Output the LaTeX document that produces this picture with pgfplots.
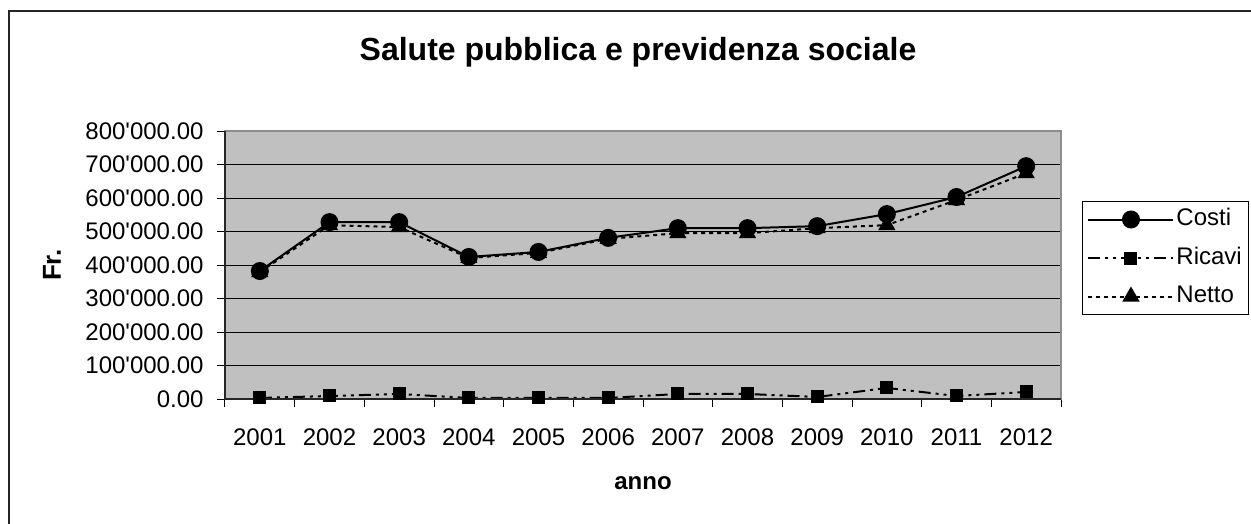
\documentclass[border=0pt]{standalone}
\usepackage{fontspec}
\setmainfont{Liberation Sans}
\usepackage{pgfplots}
\pgfplotsset{compat=1.18}
\definecolor{plotbg}{HTML}{C0C0C0}
\definecolor{bordergray}{HTML}{8C8C8C}
\begin{document}
\begin{tikzpicture}[x=1pt,y=1pt]
\useasboundingbox (0,0) rectangle (1251,523);
\fill[white] (0,0) rectangle (1251,523);
\begin{axis}[
  at={(225pt,124pt)}, anchor=south west,
  scale only axis, width=836pt, height=268pt,
  xmin=0.5, xmax=12.5, ymin=0, ymax=800000,
  axis background/.style={fill=plotbg},
  axis line style={draw=bordergray, line width=2pt},
  tick pos=left,
  xtick={0.5,1.5,2.5,3.5,4.5,5.5,6.5,7.5,8.5,9.5,10.5,11.5,12.5},
  xticklabels={},
  extra x ticks={1,2,3,4,5,6,7,8,9,10,11,12},
  extra x tick labels={2001,2002,2003,2004,2005,2006,2007,2008,2009,2010,2011,2012},
  extra x tick style={major tick length=0pt, grid=none},
  ytick={0,100000,200000,300000,400000,500000,600000,700000,800000},
  yticklabels={0.00,100\textquotesingle000.00,200\textquotesingle000.00,300\textquotesingle000.00,400\textquotesingle000.00,500\textquotesingle000.00,600\textquotesingle000.00,700\textquotesingle000.00,800\textquotesingle000.00},
  scaled y ticks=false,
  tick align=outside, major tick length=8pt,
  tick style={black, line width=1pt},
  ymajorgrids, grid style={black, line width=1pt},
  tick label style={font=\fontsize{24}{28}\selectfont},
  x tick label style={yshift=-26pt},
  y tick label style={xshift=-10pt},
  legend style={at={(axis description cs:1.0251,0.7388)}, anchor=north west,
    draw=black, line width=1pt, fill=white,
    font=\fontsize{24}{28}\selectfont, row sep=12.5pt, inner sep=5pt,
    nodes={inner sep=2pt, text height=17pt, text depth=5pt}},
  legend cell align=left,
  reverse legend,
  legend image code/.code={\draw[mark repeat=2,mark phase=2,#1] plot coordinates {(0pt,0pt) (42.5pt,0pt) (85pt,0pt)};},
  clip=false,
]
\addplot[black, line width=2pt, dash pattern=on 4pt off 4pt, mark=triangle*, mark size=8pt, mark options={solid, fill=black}]
  coordinates {(1,379000) (2,519000) (3,513000) (4,421000) (5,436000) (6,478000) (7,495000) (8,495000) (9,510000) (10,519000) (11,594000) (12,674000)};
\addlegendentry{Netto}
\addplot[black, line width=2pt, dash pattern=on 12pt off 5pt on 3pt off 5pt on 3pt off 5pt, mark=square*, mark size=5.5pt, mark options={solid, fill=black}]
  coordinates {(1,3000) (2,9000) (3,15000) (4,3000) (5,3000) (6,3000) (7,15000) (8,15000) (9,6000) (10,33000) (11,9000) (12,21000)};
\addlegendentry{Ricavi}
\addplot[black, line width=2pt, mark=*, mark size=8pt, mark options={solid, fill=black}]
  coordinates {(1,382000) (2,528000) (3,528000) (4,424000) (5,439000) (6,481000) (7,510000) (8,510000) (9,516000) (10,552000) (11,603000) (12,695000)};
\addlegendentry{Costi}
\draw[black!85, line width=2pt] (axis description cs:0,1) -- (axis description cs:0,0) -- (axis description cs:1,0);
\end{axis}
\node[font=\bfseries\fontsize{32}{37}\selectfont] at (638,471) {Salute pubblica e previdenza sociale};
\node[rotate=90, font=\bfseries\fontsize{26}{30}\selectfont] at (52,258) {Fr.};
\node[font=\bfseries\fontsize{24}{28}\selectfont] at (643,40) {anno};
\draw[black!85, line width=1.5pt] (9,-20) -- (9,512) -- (1260,512);
\end{tikzpicture}
\end{document}
